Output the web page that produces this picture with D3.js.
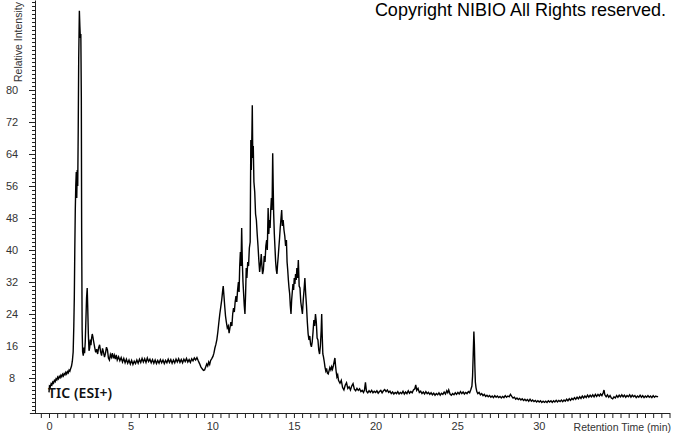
<!DOCTYPE html>
<html>
<head>
<meta charset="utf-8">
<script src="https://cdn.jsdelivr.net/npm/d3@7"></script>
<style>
  body { margin: 0; background: #fff; }
  svg { display: block; }
</style>
</head>
<body>
<svg id="chart" width="673" height="433"></svg>
<script>
// tick labels
const xTickLabels = [0, 5, 10, 15, 20, 25, 30];
const yTickLabels = [8, 16, 24, 32, 40, 48, 56, 64, 72, 80];

// TIC trace, [retention time (min), relative intensity]
const solventFront = [
  [0.00,4.4],[0.03,6.0],[0.08,5.8],[0.13,6.6],[0.18,6.3],[0.23,7.0],[0.28,6.7],[0.33,7.4],[0.38,7.1],
  [0.43,7.8],[0.48,7.5],[0.53,8.2],[0.58,7.8],[0.63,8.4],[0.68,8.1],[0.73,8.7],[0.78,8.3],[0.83,8.9],
  [0.88,8.5],[0.93,9.1],[0.98,8.8],[1.03,9.4],[1.08,9.0],[1.13,9.6],[1.18,9.3],[1.23,10.0],[1.28,9.7],
  [1.33,10.4],[1.38,11.0],[1.43,12.2],[1.48,14.5],[1.52,21.0],[1.55,28.0],[1.58,40.0],[1.61,50.0],
  [1.64,56.0],[1.67,59.5],[1.70,53.0],[1.73,60.0],[1.76,56.0],[1.79,70.0],[1.82,88.0],[1.86,99.8],
  [1.89,96.0],[1.92,93.0],[1.95,94.0],[1.98,78.0],[2.00,45.0],[2.03,20.0],[2.06,14.5],[2.10,13.6],
  [2.14,15.6],[2.18,14.2],[2.22,17.0],[2.26,22.5],[2.30,28.0],[2.34,30.5],[2.37,26.0],[2.41,19.0],
  [2.45,14.8],[2.49,15.5],[2.53,17.6],[2.57,16.2],[2.61,18.0],[2.65,19.0],[2.69,18.2]
];

const earlyBaseline = [
  [2.74,17.0],[2.80,15.6],[2.86,14.4],[2.92,15.2],[2.98,14.0],[3.04,15.6],[3.10,16.3],[3.16,14.6],
  [3.22,13.6],[3.28,15.4],[3.34,14.4],[3.40,13.2],[3.46,14.2],[3.52,15.7],[3.58,15.0],[3.64,13.0],
  [3.70,12.5],[3.76,13.9],[3.82,13.2],[3.88,14.2],[3.94,12.9],[4.00,13.7],[4.06,12.7],[4.12,13.8],
  [4.18,12.5],[4.26,13.3],[4.34,12.3],[4.42,13.1],[4.50,12.0],[4.58,12.9],[4.66,11.8],[4.74,12.7],
  [4.82,11.7],[4.90,12.5],[4.98,11.5],[5.06,12.4],[5.14,11.4],[5.22,12.2],[5.30,11.6],[5.38,12.5],
  [5.46,11.7],[5.54,12.7],[5.62,11.9],[5.70,12.9],[5.78,12.0],[5.86,12.8],[5.94,11.9],[6.02,13.0],
  [6.10,12.1],[6.18,12.7],[6.26,11.8],[6.34,12.6],[6.42,11.7],[6.50,12.5],[6.58,11.6],[6.66,12.4],
  [6.74,11.7],[6.82,12.6],[6.90,11.8],[6.98,12.5],[7.06,11.6],[7.14,12.4],[7.22,11.8],[7.30,12.7],
  [7.38,11.9],[7.46,12.6],[7.54,11.7],[7.62,12.5],[7.70,11.8],[7.78,12.7],[7.86,12.0],[7.94,12.8],
  [8.02,11.9],[8.10,12.6],[8.18,11.8],[8.26,12.7],[8.34,12.1],[8.42,12.9],[8.50,12.0],[8.58,12.6],
  [8.66,11.9],[8.74,12.8],[8.82,12.3],[8.90,13.0],[8.98,12.5],[9.06,13.1],[9.14,12.3],[9.22,11.6],
  [9.30,10.8],[9.38,10.3],[9.46,9.9],[9.53,10.0],[9.60,10.8],[9.66,11.5],[9.72,11.0],[9.78,12.0],
  [9.84,11.4],[9.90,12.4],[9.96,12.8]
];

const humpRegion = [
  [10.04,13.4],[10.10,14.2],[10.16,15.5],[10.22,16.4],[10.28,17.6],[10.34,19.5],[10.40,21.8],
  [10.46,24.0],[10.52,25.8],[10.58,27.6],[10.63,29.6],[10.67,31.0],[10.71,28.8],[10.76,26.0],
  [10.81,23.5],[10.86,22.0],[10.92,20.5],[10.98,21.0],[11.03,19.2],[11.08,20.5],[11.14,22.0],
  [11.20,21.0],[11.25,24.0],[11.30,25.5],[11.35,24.5],[11.40,27.0],[11.45,28.5],[11.50,27.0],
  [11.55,30.0],[11.60,32.0],[11.64,29.5],[11.68,36.0],[11.72,39.5],[11.76,36.0],[11.80,45.5],
  [11.84,37.0],[11.88,32.0],[11.92,29.0],[11.96,26.0],[12.00,24.0],[12.04,29.0],[12.08,35.5],
  [12.12,33.0],[12.17,37.0],[12.22,36.0],[12.27,40.5],[12.32,42.0],[12.36,67.5],[12.39,60.0],
  [12.43,70.0],[12.45,76.2],[12.48,63.0],[12.51,66.0],[12.55,57.0],[12.60,54.5],[12.65,49.0],
  [12.70,47.5],[12.75,44.0],[12.80,41.0],[12.85,37.5],[12.90,34.5],[12.95,36.5],[13.00,39.0],
  [13.04,36.0],[13.08,34.0],[13.13,35.0],[13.18,38.5],[13.23,37.0],[13.28,41.0],[13.33,42.5],
  [13.37,40.0],[13.42,50.5],[13.46,44.0],[13.50,47.5],[13.54,45.5],[13.58,50.0],[13.62,53.0],
  [13.66,50.0],[13.70,64.2],[13.73,56.0],[13.76,49.0],[13.80,44.0],[13.84,40.5],[13.88,37.0],
  [13.92,35.0],[13.96,34.0],[14.00,36.5],[14.04,38.5],[14.08,40.8],[14.12,43.0],[14.16,45.5],
  [14.21,48.0],[14.25,50.0],[14.29,46.0],[14.34,47.5],[14.39,45.0],[14.44,43.5],[14.49,41.0],
  [14.54,42.5],[14.58,37.0],[14.62,35.0],[14.66,32.5],[14.70,30.5],[14.74,29.0],[14.78,26.0],
  [14.82,24.0],[14.86,27.5],[14.90,29.5],[14.94,31.5],[14.98,30.0],[15.02,33.0],[15.06,31.5],
  [15.10,34.0],[15.14,32.5],[15.18,35.5],[15.22,33.0],[15.27,37.5],[15.32,31.0],[15.37,30.5],
  [15.42,27.0],[15.47,25.5],[15.52,24.0],[15.57,27.5],[15.62,30.0],[15.67,33.0],[15.72,29.0],
  [15.77,26.0],[15.82,22.0],[15.87,19.0],[15.92,17.5],[15.97,18.5],[16.02,16.5],[16.07,15.8],
  [16.12,17.0],[16.17,19.5],[16.22,22.5],[16.27,21.0],[16.32,24.0],[16.37,22.0],[16.42,18.0],
  [16.47,17.5],[16.52,15.0],[16.57,14.0],[16.62,16.0],[16.67,20.0],[16.70,24.0],[16.73,19.0],
  [16.77,14.0],[16.81,13.3],[16.86,12.0],[16.90,10.8],[16.95,9.8],[17.00,10.4],[17.05,9.2],
  [17.10,9.0],[17.15,9.8],[17.20,10.6],[17.26,10.0],[17.31,10.8],[17.36,10.2],[17.41,11.0],
  [17.46,12.0],[17.51,13.0],[17.55,11.0],[17.59,9.5],[17.63,8.3],[17.68,8.8],[17.73,7.4],
  [17.78,7.0],[17.82,6.7]
];

const lateTail = [
  [17.90,7.4],[17.98,5.6],[18.06,5.0],[18.14,6.2],[18.22,6.8],[18.30,5.4],[18.38,5.8],[18.46,5.0],
  [18.54,6.0],[18.62,6.6],[18.70,5.2],[18.78,4.8],[18.86,5.4],[18.94,4.9],[19.02,5.3],[19.10,4.6],
  [19.18,4.9],[19.26,4.4],[19.32,5.0],[19.38,6.9],[19.44,4.7],[19.52,4.3],[19.60,4.8],[19.68,4.4],
  [19.76,4.9],[19.84,4.3],[19.92,4.7],[20.00,4.4],[20.08,4.8],[20.16,4.2],[20.24,4.6],[20.32,4.9],
  [20.40,4.3],[20.48,4.8],[20.56,5.1],[20.64,4.6],[20.72,5.0],[20.80,4.4],[20.88,4.7],[20.96,4.1],
  [21.04,4.5],[21.12,4.0],[21.20,4.4],[21.28,4.1],[21.36,4.6],[21.44,4.0],[21.52,4.4],[21.60,4.1],
  [21.68,4.7],[21.76,4.0],[21.84,4.5],[21.92,4.1],[22.00,4.8],[22.08,4.2],[22.16,4.6],[22.24,4.3],
  [22.32,5.0],[22.40,5.3],[22.46,6.3],[22.52,4.9],[22.60,5.4],[22.68,4.4],[22.76,4.7],[22.84,4.1],
  [22.92,4.5],[23.00,4.0],[23.08,4.6],[23.16,4.1],[23.24,4.4],[23.32,3.9],[23.40,4.3],[23.48,3.8],
  [23.56,4.2],[23.64,3.7],[23.72,4.1],[23.80,3.8],[23.88,4.3],[23.96,3.7],[24.04,4.2],[24.12,3.9],
  [24.20,4.5],[24.28,4.0],[24.36,4.8],[24.42,4.3],[24.48,5.0],[24.56,4.0],[24.64,3.7],[24.72,4.1],
  [24.80,3.8],[24.88,4.3],[24.96,3.9],[25.04,4.4],[25.12,4.0],[25.20,4.6],[25.28,4.1],[25.36,4.5],
  [25.44,4.0],[25.52,4.4],[25.60,4.1],[25.68,4.6],[25.76,4.3],[25.84,5.2],[25.90,6.0],[25.94,8.5],
  [25.98,14.0],[26.02,19.6],[26.05,16.5],[26.08,11.0],[26.11,7.0],[26.15,5.6],[26.20,4.6],[26.26,4.1],
  [26.34,4.4],[26.42,3.8],[26.50,4.1],[26.58,3.6],[26.66,3.9],[26.74,3.4],[26.82,3.7],[26.90,3.3],
  [26.98,3.6],[27.06,3.2],[27.14,3.5],[27.22,3.1],[27.30,3.6],[27.38,3.2],[27.46,3.5],[27.54,3.1],
  [27.62,3.4],[27.70,3.0],[27.78,3.4],[27.86,3.1],[27.94,3.6],[28.02,3.2],[28.10,3.5],[28.18,3.3],
  [28.26,3.9],[28.34,3.4],[28.42,3.0],[28.50,3.2],[28.58,2.7],[28.66,3.0],[28.74,2.6],[28.82,2.9],
  [28.90,2.5],[28.98,2.8],[29.06,2.4],[29.14,2.7],[29.22,2.3],[29.30,2.6],[29.38,2.2],[29.46,2.7],
  [29.54,2.2],[29.62,2.5],[29.70,2.1],[29.78,2.4],[29.86,2.0],[29.94,2.3],[30.02,2.0],[30.10,2.3],
  [30.18,1.9],[30.26,2.2],[30.34,1.9],[30.42,2.2],[30.50,1.9],[30.58,2.3],[30.66,2.0],[30.74,2.3],
  [30.82,1.9],[30.90,2.3],[30.98,2.0],[31.06,2.4],[31.14,2.0],[31.22,2.4],[31.30,2.1],[31.38,2.5],
  [31.46,2.1],[31.54,2.5],[31.62,2.2],[31.70,2.7],[31.78,2.3],[31.86,2.8],[31.94,2.4],[32.02,2.9],
  [32.10,2.6],[32.18,3.1],[32.26,2.7],[32.34,3.2],[32.42,2.8],[32.50,3.3],[32.58,2.9],[32.66,3.5],
  [32.74,3.0],[32.82,3.5],[32.90,3.1],[32.98,3.7],[33.06,3.2],[33.14,3.7],[33.22,3.3],[33.30,3.8],
  [33.38,3.3],[33.46,3.9],[33.54,3.4],[33.62,3.9],[33.70,3.5],[33.78,4.0],[33.86,3.6],[33.94,4.3],
  [33.99,5.0],[34.04,3.8],[34.12,3.3],[34.20,3.8],[34.28,3.2],[34.36,3.6],[34.44,3.0],[34.52,2.8],
  [34.60,3.3],[34.68,3.0],[34.76,3.6],[34.84,3.2],[34.92,3.7],[35.00,3.3],[35.08,3.8],[35.16,3.3],
  [35.24,3.7],[35.32,3.2],[35.40,3.6],[35.48,3.3],[35.56,3.8],[35.64,3.2],[35.72,3.7],[35.80,3.3],
  [35.88,3.6],[35.96,3.1],[36.04,3.5],[36.12,3.2],[36.20,3.7],[36.28,3.2],[36.36,3.6],[36.44,3.1],
  [36.52,3.5],[36.60,3.2],[36.68,3.6],[36.76,3.2],[36.84,3.5],[36.92,3.1],[37.00,3.6],[37.08,3.2],
  [37.16,3.5],[37.24,3.3],[37.30,3.4]
];

const trace = [].concat(solventFront, earlyBaseline, humpRegion, lateTail);

const svg = d3.select("#chart");
const tickFont = "Liberation Sans, Arial, sans-serif";

const x = d3.scaleLinear().domain([-1.2, 38]).range([29.4, 669.5]);
const y = d3.scaleLinear().domain([-0.75, 102.5]).range([413, 0]);

// x axis: minor ticks every 0.5 min, labels every 5
const xAxis = d3.axisBottom(x)
    .tickValues(d3.range(-0.5, 38.01, 0.5))
    .tickSize(5)
    .tickSizeOuter(0)
    .tickFormat(d => xTickLabels.includes(d) ? d : "");

svg.append("g")
    .attr("transform", "translate(0,413)")
    .call(xAxis)
    .call(g => g.selectAll("line, path").attr("stroke", "#222"))
    .call(g => g.selectAll("text")
        .attr("y", 9)
        .attr("fill", "#333")
        .style("font", `11px ${tickFont}`));

// y axis: minor ticks every unit, labelled every 8
svg.append("g")
    .attr("transform", "translate(35,0)")
    .call(d3.axisLeft(y).tickValues(d3.range(0, 103, 1)).tickSize(3).tickSizeOuter(0).tickFormat(""))
    .call(g => g.selectAll("line, path").attr("stroke", "#222"));

svg.append("g")
    .attr("transform", "translate(35,0)")
    .call(d3.axisLeft(y).tickValues(yTickLabels).tickSize(6).tickSizeOuter(0))
    .call(g => g.select(".domain").remove())
    .call(g => g.selectAll("line").attr("stroke", "#222"))
    .call(g => g.selectAll("text")
        .attr("x", -23)
        .attr("text-anchor", "middle")
        .attr("fill", "#333")
        .style("font", `11px ${tickFont}`));

// axis titles
svg.append("text")
    .attr("transform", "translate(22,82) rotate(-90)")
    .attr("fill", "#333")
    .style("font", `10.5px ${tickFont}`)
    .text("Relative Intensity");

svg.append("text")
    .attr("x", 671)
    .attr("y", 431)
    .attr("text-anchor", "end")
    .attr("fill", "#333")
    .style("font", `10.5px ${tickFont}`)
    .text("Retention Time (min)");

// chromatogram
const line = d3.line()
    .x(d => x(d[0]))
    .y(d => y(d[1]));

svg.append("path")
    .datum(trace)
    .attr("fill", "none")
    .attr("stroke", "#000")
    .attr("stroke-width", 1.4)
    .attr("stroke-linejoin", "miter")
    .attr("d", line);

// trace label
svg.append("text")
    .attr("x", 48)
    .attr("y", 398)
    .attr("fill", "#111")
    .attr("textLength", 64)
    .style("font", "600 14px 'Noto Sans', sans-serif")
    .text("TIC (ESI+)");

// copyright
svg.append("text")
    .attr("x", 666)
    .attr("y", 16)
    .attr("text-anchor", "end")
    .attr("fill", "#000")
    .style("font", `18px ${tickFont}`)
    .text("Copyright NIBIO All Rights reserved.");
</script>
</body>
</html>
